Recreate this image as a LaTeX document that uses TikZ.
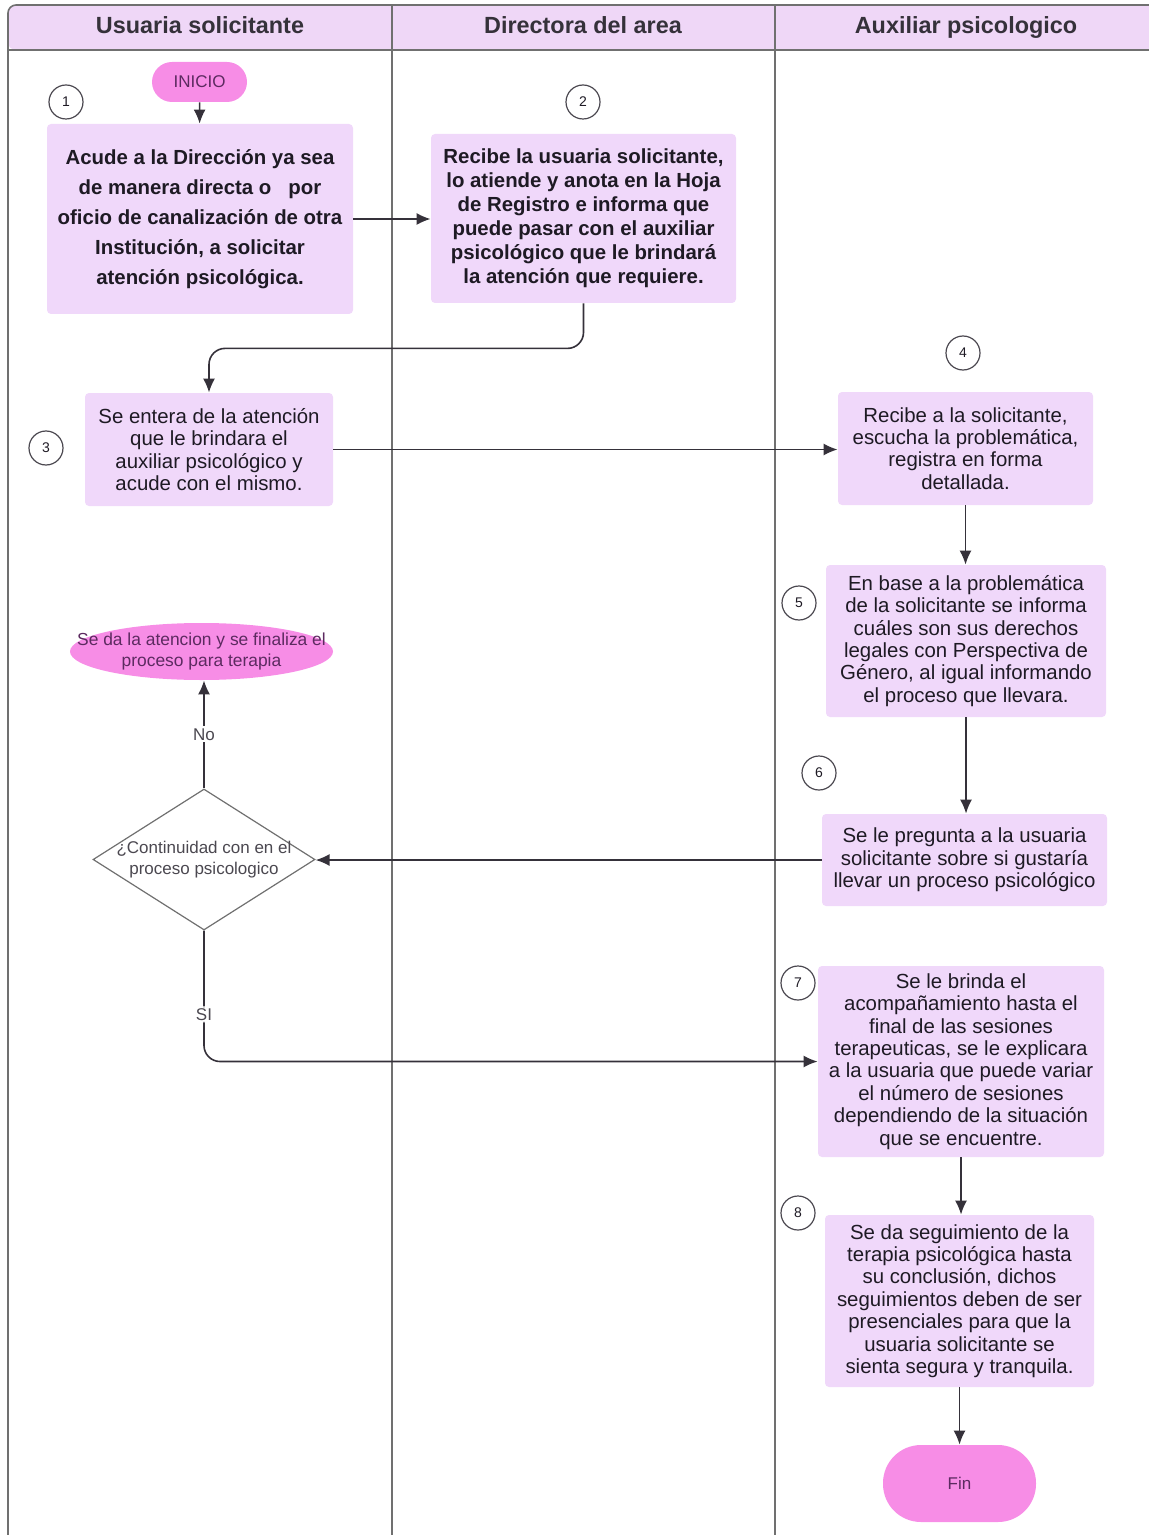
\documentclass[tikz,border=0pt]{standalone}
\usepackage{fontspec}
\setmainfont{Liberation Sans}
\usetikzlibrary{shapes,arrows,arrows.meta}
\usepackage{xcolor}
\definecolor{lila}{HTML}{F0D8FA}
\definecolor{rosa}{HTML}{F78DE6}
\definecolor{cabeza}{HTML}{EFD7F7}
\definecolor{morado}{HTML}{5C2A60}
\definecolor{tinta}{HTML}{1E1A24}
\definecolor{gris}{HTML}{707070}

\begin{document}
\begin{tikzpicture}[x=0.5pt,y=-0.5pt,
					paso/.style={fill=lila, rounded corners=2pt, align=center, inner sep=0pt, text=tinta, font=\fontsize{10.2}{11.2}\selectfont},
					negrita/.style={paso, font=\fontsize{10.2}{12}\selectfont\bfseries},
					terminal/.style={fill=rosa, align=center, inner sep=0pt, text=morado, font=\fontsize{8.5}{10}\selectfont},
					numero/.style={draw=tinta!80, circle, line width=0.6pt, minimum size=17pt, inner sep=0pt, font=\fontsize{7}{8}\selectfont, text=tinta},
					titulo/.style={anchor=base, font=\fontsize{11.7}{13}\selectfont\bfseries, text=tinta!90},
					rotulo/.style={fill=white, inner sep=1pt, font=\fontsize{8.5}{10}\selectfont, text=tinta!80},
					flecha/.style={draw=tinta!90, line width=0.8pt, -{Latex[length=7pt,width=6pt]}}]
    \useasboundingbox (0,0) rectangle (1148,1535);
    % Lanes
    \fill[cabeza, rounded corners=4pt] (8,5) rectangle (1170,50);
    \draw[gris, line width=0.8pt, rounded corners=4pt] (8,1545) -- (8,5) -- (1170,5);
    \draw[gris, line width=0.8pt] (8,50) -- (1170,50);
    \draw[gris, line width=0.8pt] (392,5) -- (392,1535);
    \draw[gris, line width=0.8pt] (775,5) -- (775,1535);
    \node[titulo] (t1) at (200,34) {Usuaria solicitante};
    \node[titulo] (t2) at (583,34) {Directora del area};
    \node[titulo] (t3) at (966,34) {Auxiliar psicologico};

    % Place nodes
    \node[terminal, rounded corners=10pt, minimum width=47.5pt, minimum height=20pt] (inicio) at (199.5,82) {INICIO};
    \node[negrita, font=\fontsize{10.2}{15}\selectfont\bfseries, minimum width=153pt, minimum height=95pt] (b1) at (200,219) {Acude a la Dirección ya sea\\de manera directa o \ \ por\\oficio de canalización de otra\\Institución, a solicitar\\atención psicológica.};
    \node[negrita, minimum width=152.5pt, minimum height=84.5pt] (b2) at (583.5,218.5) {Recibe la usuaria solicitante,\\lo atiende y anota en la Hoja\\de Registro e informa que\\puede pasar con el auxiliar\\psicológico que le brindará\\la atención que requiere.};
    \node[paso, minimum width=124pt, minimum height=56.5pt] (b3) at (209,449.5) {Se entera de la atención\\que le brindara el\\auxiliar psicológico y\\acude con el mismo.};
    \node[paso, minimum width=127.5pt, minimum height=56.5pt] (b4) at (965.5,448.5) {Recibe a la solicitante,\\escucha la problemática,\\registra en forma\\detallada.};
    \node[paso, minimum width=140pt, minimum height=76pt] (b5) at (966,641) {En base a la problemática\\de la solicitante se informa\\cuáles son sus derechos\\legales con Perspectiva de\\Género, al igual informando\\el proceso que llevara.};
    \node[paso, minimum width=142.5pt, minimum height=46pt] (b6) at (964.5,860) {Se le pregunta a la usuaria\\solicitante sobre si gustaría\\llevar un proceso psicológico};
    \node[draw=gris, diamond, line width=0.6pt, fill=white, minimum width=111pt, minimum height=70.5pt, inner sep=0pt,
          label={[font=\fontsize{8.5}{10.5}\selectfont, text=tinta!80, align=center]center:¿Continuidad con en el\\proceso psicologico}] (dec) at (204,859.5) {};
    \node[terminal, ellipse, minimum width=131.5pt, minimum height=28.5pt,
          label={[font=\fontsize{8.7}{10.5}\selectfont, text=morado, align=center]center:Se da la atencion y se finaliza el\\proceso para terapia}] (fin1) at (201.5,651.5) {};
    \node[paso, minimum width=143pt, minimum height=95.5pt] (b7) at (961,1061.5) {Se le brinda el\\acompañamiento hasta el\\final de las sesiones\\terapeuticas, se le explicara\\a la usuaria que puede variar\\el número de sesiones\\dependiendo de la situación\\que se encuentre.};
    \node[paso, minimum width=134.5pt, minimum height=86pt] (b8) at (959.5,1301) {Se da seguimiento de la\\terapia psicológica hasta\\su conclusión, dichos\\seguimientos deben de ser\\presenciales para que la\\usuaria solicitante se\\sienta segura y tranquila.};
    \node[terminal, rounded corners=19pt, minimum width=76.5pt, minimum height=38.5pt] (fin) at (959.5,1483.5) {Fin};

    % Step numbers
    \node[numero] (n1) at (66,102) {1};
    \node[numero] (n2) at (583,102) {2};
    \node[numero] (n3) at (46,448) {3};
    \node[numero] (n4) at (963,353) {4};
    \node[numero] (n5) at (799,603) {5};
    \node[numero] (n6) at (819,773) {6};
    \node[numero] (n7) at (798,983) {7};
    \node[numero] (n8) at (798,1213) {8};

    % Draw edges
    \draw[flecha] (inicio) -- (b1);
    \draw[flecha] (b1.east) -- (b1.east -| b2.west);
    \draw[flecha, rounded corners=8pt] (b2.south) -- ++(0,45) -| (b3.north);
    \draw[flecha] (b3.east) -- (b3.east -| b4.west);
    \draw[flecha] (b4.south) -- (b4.south |- b5.north);
    \draw[flecha] (b5.south) -- (b5.south |- b6.north);
    \draw[flecha] (b6.west) -- (b6.west -| dec.east);
    \draw[flecha] (dec.north) -- node[rotulo]{No} (dec.north |- fin1.south);
    \draw[flecha, rounded corners=8pt] (dec.south) |- node[rotulo, pos=0.32]{SI} (b7.west);
    \draw[flecha] (b7.south) -- (b7.south |- b8.north);
    \draw[flecha] (b8.south) -- (b8.south |- fin.north);
\end{tikzpicture}
\end{document}
